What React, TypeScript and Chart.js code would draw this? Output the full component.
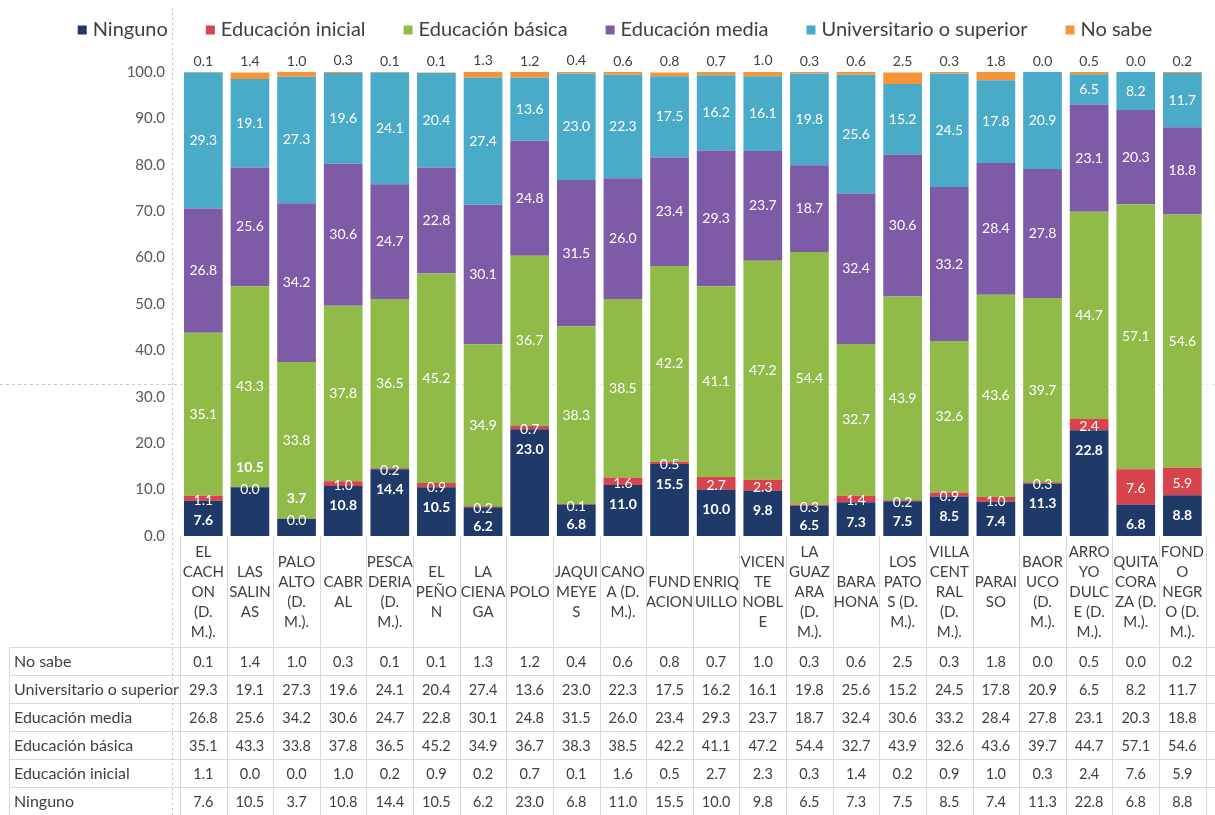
import React, { useEffect, useRef } from 'react';
import { Chart, registerables } from 'chart.js';

Chart.register(...registerables);

const FONT = 'Lato, "Open Sans", sans-serif';

const categories: string[][] = [
  ['EL', 'CACH', 'ON', '(D.', 'M.).'],
  ['LAS', 'SALIN', 'AS'],
  ['PALO', 'ALTO', '(D.', 'M.).'],
  ['CABR', 'AL'],
  ['PESCA', 'DERIA', '(D.', 'M.).'],
  ['EL', 'PEÑO', 'N'],
  ['LA', 'CIENA', 'GA'],
  ['POLO'],
  ['JAQUI', 'MEYE', 'S'],
  ['CANO', 'A (D.', 'M.).'],
  ['FUND', 'ACION'],
  ['ENRIQ', 'UILLO'],
  ['VICEN', 'TE', 'NOBL', 'E'],
  ['LA', 'GUAZ', 'ARA', '(D.', 'M.).'],
  ['BARA', 'HONA'],
  ['LOS', 'PATO', 'S (D.', 'M.).'],
  ['VILLA', 'CENT', 'RAL', '(D.', 'M.).'],
  ['PARAI', 'SO'],
  ['BAOR', 'UCO', '(D.', 'M.).'],
  ['ARRO', 'YO', 'DULC', 'E (D.', 'M.).'],
  ['QUITA', 'CORA', 'ZA (D.', 'M.).'],
  ['FOND', 'O', 'NEGR', 'O (D.', 'M.).'],
];

const seriesNames = [
  'Ninguno',
  'Educación inicial',
  'Educación básica',
  'Educación media',
  'Universitario o superior',
  'No sabe',
];

const ninguno = [7.6, 10.5, 3.7, 10.8, 14.4, 10.5, 6.2, 23.0, 6.8, 11.0, 15.5, 10.0, 9.8, 6.5, 7.3, 7.5, 8.5, 7.4, 11.3, 22.8, 6.8, 8.8];
const inicial = [1.1, 0.0, 0.0, 1.0, 0.2, 0.9, 0.2, 0.7, 0.1, 1.6, 0.5, 2.7, 2.3, 0.3, 1.4, 0.2, 0.9, 1.0, 0.3, 2.4, 7.6, 5.9];
const basica = [35.1, 43.3, 33.8, 37.8, 36.5, 45.2, 34.9, 36.7, 38.3, 38.5, 42.2, 41.1, 47.2, 54.4, 32.7, 43.9, 32.6, 43.6, 39.7, 44.7, 57.1, 54.6];
const media = [26.8, 25.6, 34.2, 30.6, 24.7, 22.8, 30.1, 24.8, 31.5, 26.0, 23.4, 29.3, 23.7, 18.7, 32.4, 30.6, 33.2, 28.4, 27.8, 23.1, 20.3, 18.8];
const universitario = [29.3, 19.1, 27.3, 19.6, 24.1, 20.4, 27.4, 13.6, 23.0, 22.3, 17.5, 16.2, 16.1, 19.8, 25.6, 15.2, 24.5, 17.8, 20.9, 6.5, 8.2, 11.7];
const noSabe = [0.1, 1.4, 1.0, 0.3, 0.1, 0.1, 1.3, 1.2, 0.4, 0.6, 0.8, 0.7, 1.0, 0.3, 0.6, 2.5, 0.3, 1.8, 0.0, 0.5, 0.0, 0.2];

const seriesValues = [ninguno, inicial, basica, media, universitario, noSabe];
const seriesColors = ['#1F3A68', '#D8434E', '#90BB48', '#7E5BA6', '#49ABC7', '#F79437'];

const decorPlugin = {
  id: 'decor',
  beforeDatasetsDraw(chart: any) {
    const ctx = chart.ctx;
    ctx.save();
    ctx.setLineDash([3, 3]);
    ctx.lineWidth = 1;
    ctx.strokeStyle = '#c8c8c8';
    ctx.beginPath();
    ctx.moveTo(0, 384.5);
    ctx.lineTo(180, 384.5);
    ctx.stroke();
    ctx.strokeStyle = '#e4e4ec';
    ctx.beginPath();
    ctx.moveTo(180, 384.5);
    ctx.lineTo(chart.width, 384.5);
    ctx.stroke();
    ctx.restore();
  },
  afterDatasetsDraw(chart: any) {
    const ctx = chart.ctx;
    ctx.save();
    ctx.textAlign = 'center';
    ctx.textBaseline = 'middle';
    chart.data.datasets.forEach((ds: any, di: number) => {
      const meta = chart.getDatasetMeta(di);
      meta.data.forEach((el: any, i: number) => {
        const v = ds.data[i] as number;
        const txt = v.toFixed(1);
        const x = el.x;
        const y = el.y;
        const base = el.base;
        let ty = (y + base) / 2;
        let color = '#ffffff';
        let font = `14px ${FONT}`;
        if (di === 5) {
          ty = y - 11;
          color = '#404040';
        } else if (di === 0) {
          font = `bold 14px ${FONT}`;
          ty = inicial[i] === 0 ? y - 20 : Math.min(y + 20, base - 10);
        } else if (di === 1) {
          ty = (y + base) / 2 + 2;
        }
        ctx.font = font;
        ctx.fillStyle = color;
        ctx.fillText(txt, x, ty);
      });
    });
    ctx.restore();
  },
  afterDraw(chart: any) {
    const ctx = chart.ctx;
    const xs = chart.scales.x;
    const area = chart.chartArea;
    const n = categories.length;
    const colW = xs.getPixelForValue(1) - xs.getPixelForValue(0);
    const headerBottom = xs.bottom;
    const rowH = (chart.height - headerBottom) / 6;

    ctx.save();
    // table grid
    ctx.strokeStyle = '#d9d9d9';
    ctx.lineWidth = 1;
    ctx.beginPath();
    for (let k = 0; k <= n; k++) {
      const px = Math.round(xs.getPixelForValue(0) - colW / 2 + k * colW) + 0.5;
      ctx.moveTo(px, area.bottom);
      ctx.lineTo(px, chart.height);
    }
    for (let r = 0; r <= 6; r++) {
      const py = Math.round(headerBottom + r * rowH) + 0.5;
      ctx.moveTo(9, py);
      ctx.lineTo(chart.width, py);
    }
    ctx.moveTo(9.5, headerBottom);
    ctx.lineTo(9.5, chart.height);
    ctx.stroke();

    // table text
    ctx.fillStyle = '#404040';
    ctx.textBaseline = 'middle';
    for (let r = 0; r < 6; r++) {
      const di = 5 - r;
      const cy = headerBottom + (r + 0.5) * rowH + 1;
      ctx.font = `16px ${FONT}`;
      ctx.textAlign = 'left';
      ctx.fillText(seriesNames[di], 14, cy);
      ctx.font = `14.5px ${FONT}`;
      ctx.textAlign = 'center';
      seriesValues[di].forEach((v, i) => {
        ctx.fillText(v.toFixed(1), xs.getPixelForValue(i), cy);
      });
    }

    // legend
    ctx.font = `20px ${FONT}`;
    const box = 9;
    const boxGap = 6;
    const gap = 38;
    const widths = seriesNames.map((s) => ctx.measureText(s).width);
    const total = widths.reduce((a, w) => a + w + box + boxGap, 0) + gap * (seriesNames.length - 1);
    let lx = 615 - total / 2;
    const ly = 30;
    ctx.textAlign = 'left';
    seriesNames.forEach((s, i) => {
      ctx.fillStyle = seriesColors[i];
      ctx.fillRect(lx, ly - box / 2, box, box);
      ctx.fillStyle = '#404040';
      ctx.fillText(s, lx + box + boxGap, ly);
      lx += box + boxGap + widths[i] + gap;
    });

    // dotted selection line
    ctx.setLineDash([2, 3]);
    ctx.strokeStyle = '#bdbdbd';
    ctx.beginPath();
    ctx.moveTo(172.5, 8);
    ctx.lineTo(172.5, chart.height);
    ctx.stroke();
    ctx.restore();
  },
};

export default function App() {
  const ref = useRef<HTMLCanvasElement | null>(null);

  useEffect(() => {
    if (!ref.current) return;
    const chart = new Chart(ref.current, {
      type: 'bar',
      data: {
        labels: categories,
        datasets: seriesNames.map((name, i) => ({
          label: name,
          data: seriesValues[i],
          backgroundColor: seriesColors[i],
          borderWidth: 0,
          barPercentage: 0.83,
          categoryPercentage: 1.0,
        })),
      },
      options: {
        responsive: false,
        animation: false,
        layout: { padding: { top: 72, bottom: 168, left: 0, right: 0 } },
        plugins: {
          legend: { display: false },
          tooltip: { enabled: false },
        },
        scales: {
          x: {
            stacked: true,
            grid: { display: false, drawTicks: false },
            border: { display: false },
            ticks: {
              autoSkip: false,
              maxRotation: 0,
              minRotation: 0,
              crossAlign: 'center',
              color: '#404040',
              padding: 16,
              font: { family: FONT, size: 15, lineHeight: '20px' },
            },
            afterFit: (s: any) => {
              s.height = 111;
            },
          },
          y: {
            stacked: true,
            min: 0,
            max: 100,
            grid: { display: false, drawTicks: false },
            border: { display: false },
            ticks: {
              stepSize: 10,
              color: '#595959',
              padding: 15,
              font: { family: FONT, size: 15 },
              callback: (v: any) => Number(v).toFixed(1),
            },
            afterFit: (s: any) => {
              s.width = 180;
            },
          },
        },
      },
      plugins: [decorPlugin],
    });
    return () => chart.destroy();
  }, []);

  return (
    <div
      style={{
        position: 'fixed',
        left: 0,
        top: 0,
        width: 1215,
        height: 815,
        overflow: 'hidden',
        background: '#ffffff',
      }}
    >
      <canvas ref={ref} width={1220} height={815} style={{ display: 'block' }} />
    </div>
  );
}
